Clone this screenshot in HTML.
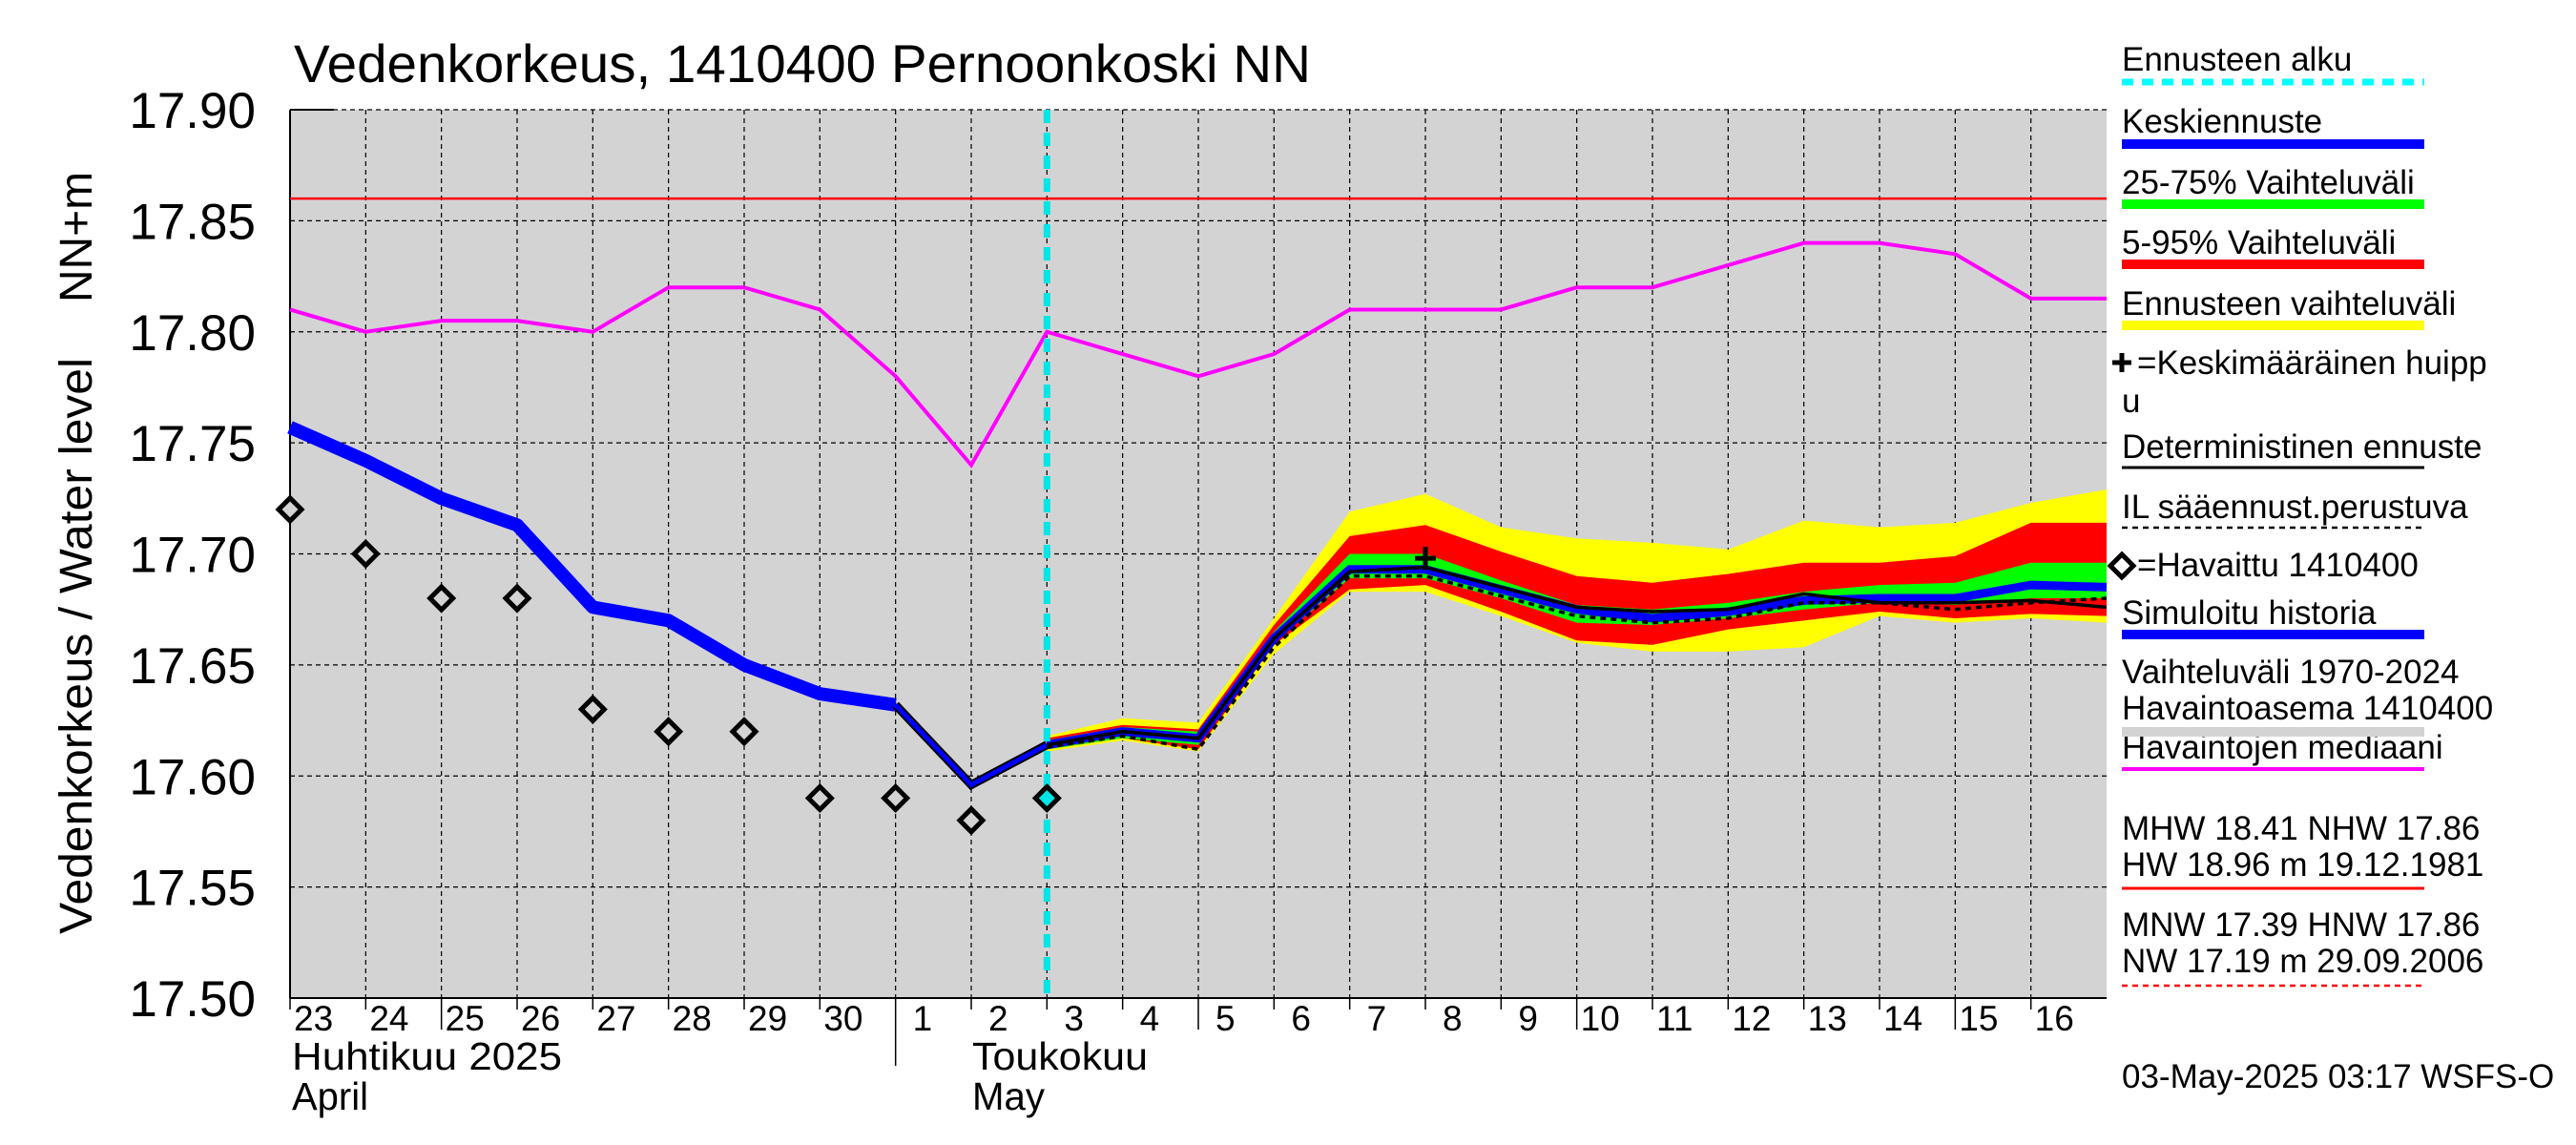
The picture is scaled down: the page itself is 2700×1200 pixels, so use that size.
<!DOCTYPE html>
<html><head><meta charset="utf-8"><style>
body{margin:0;background:#fff;}
svg{display:block;font-family:"Liberation Sans",sans-serif;}
</style></head><body>
<svg id="c" width="2700" height="1200" viewBox="0 0 2700 1200"></svg>
<script>
const days=["23","24","25","26","27","28","29","30","1","2","3","4","5","6","7","8","9","10","11","12","13","14","15","16"];
const yTicks=[17.50,17.55,17.60,17.65,17.70,17.75,17.80,17.85,17.90];
const median=[17.81,17.80,17.805,17.805,17.80,17.82,17.82,17.81,17.78,17.74,17.80,17.79,17.78,17.79,17.81,17.81,17.81,17.82,17.82,17.83,17.84,17.84,17.835,17.815,17.815];
const simHist=[17.757,17.742,17.725,17.713,17.676,17.670,17.650,17.637,17.632,17.596,17.614];
const observed=[17.72,17.70,17.68,17.68,17.63,17.62,17.62,17.59,17.59,17.58,17.59];
const fcStart=10;
const yelTop=[17.618,17.626,17.624,17.671,17.719,17.727,17.712,17.707,17.705,17.702,17.715,17.712,17.714,17.723,17.729];
const redTop=[17.617,17.623,17.621,17.668,17.708,17.713,17.701,17.690,17.687,17.691,17.696,17.696,17.699,17.714,17.714];
const grnTop=[17.616,17.622,17.620,17.665,17.700,17.700,17.688,17.677,17.675,17.678,17.683,17.686,17.687,17.696,17.696];
const grnBot=[17.612,17.617,17.614,17.660,17.689,17.689,17.680,17.669,17.668,17.671,17.675,17.678,17.677,17.680,17.680];
const redBot=[17.612,17.617,17.612,17.659,17.684,17.686,17.674,17.661,17.659,17.666,17.670,17.674,17.671,17.673,17.672];
const yelBot=[17.611,17.616,17.611,17.655,17.683,17.683,17.672,17.660,17.656,17.656,17.658,17.672,17.669,17.671,17.669];
const meanFc=[17.614,17.620,17.617,17.662,17.693,17.693,17.684,17.675,17.671,17.674,17.679,17.680,17.680,17.686,17.685];
const detFc=[17.614,17.620,17.617,17.662,17.692,17.694,17.685,17.676,17.674,17.675,17.682,17.678,17.678,17.679,17.676];
const ilFc=[17.613,17.618,17.612,17.658,17.690,17.690,17.681,17.672,17.669,17.671,17.678,17.678,17.675,17.678,17.680];
const peakDay=15, peakVal=17.698;
const nhw=17.86;

const X0=304,X1=2208,Y0=115,Y1=1046,NDAYS=24;
const xs=i=>X0+(X1-X0)*i/NDAYS;
const ys=v=>Y0+(17.90-v)/0.40*(Y1-Y0);
const svg=document.getElementById('c');
const NS='http://www.w3.org/2000/svg';
function el(tag,attrs,parent){const e=document.createElementNS(NS,tag);for(const k in attrs)e.setAttribute(k,attrs[k]);(parent||svg).appendChild(e);return e;}
function pts(arr,off){return arr.map((v,i)=>xs(i+off)+','+ys(v)).join(' ');}

let e;
e=el('rect',{x:X0,y:Y0,width:X1-X0,height:Y1-Y0,fill:'#d3d3d3'});


for(let i=1;i<NDAYS;i++){
 e=el('line',{x1:xs(i),x2:xs(i),y1:Y0,y2:Y1,stroke:'#000','stroke-width':1.2,'stroke-dasharray':'5,4'});
 
 
}
yTicks.forEach(v=>{
 e=el('line',{x1:X0,x2:X1,y1:ys(v),y2:ys(v),stroke:'#000','stroke-width':1.2,'stroke-dasharray':'5,4'});
 
 
 e=el('text',{x:268,y:ys(v)+19,'font-size':53,'text-anchor':'end'});
 e.textContent=v.toFixed(2);
 
 
});
el('line',{x1:X0,x2:X0,y1:Y0,y2:Y1,stroke:'#000','stroke-width':2});
el('line',{x1:X0,x2:X1,y1:Y1,y2:Y1,stroke:'#000','stroke-width':2});
el('line',{x1:X0,x2:X0+46,y1:Y0,y2:Y0,stroke:'#000','stroke-width':2});
days.forEach((d,i)=>{
 const long=(d==='25'||d==='5'||d==='10'||d==='15');
 el('line',{x1:xs(i),x2:xs(i),y1:Y1,y2:Y1+(d==='1'?71:(long?33:12)),stroke:'#000','stroke-width':1.5});
 e=el('text',{x:xs(i)+(d.length>1?4:18),y:1080,'font-size':37});
 e.textContent=d;
 
 
});
[['Huhtikuu  2025',306,1121,283],['April',306,1163,80],['Toukokuu',1019,1121,184],['May',1019,1163,76]].forEach(t=>{
 e=el('text',{x:t[1],y:t[2],'font-size':41,'xml:space':'preserve',textLength:t[3],lengthAdjust:'spacingAndGlyphs'});e.textContent=t[0];
 
 
});
e=el('line',{x1:X0,x2:X1,y1:ys(nhw),y2:ys(nhw),stroke:'#ff0000','stroke-width':2.5});


e=el('polyline',{points:pts(median,0),fill:'none',stroke:'#ff00ff','stroke-width':4});


function band(top,bot,col,name){
 const p=top.map((v,i)=>xs(i+fcStart)+','+ys(v)).concat(bot.map((v,i)=>[i,v]).reverse().map(a=>xs(a[0]+fcStart)+','+ys(a[1])));
 const b=el('polygon',{points:p.join(' '),fill:col});
 
 
}
band(yelTop,yelBot,'#ffff00','forecast-range-band');
band(redTop,redBot,'#ff0000','band-5-95');
band(grnTop,grnBot,'#00ff00','band-25-75');
e=el('polyline',{points:pts(simHist.slice(0,9),0),fill:'none',stroke:'#0000ff','stroke-width':14,'stroke-linejoin':'round'});


e=el('polyline',{points:pts(simHist.slice(8),8),fill:'none',stroke:'#000','stroke-width':9});
e=el('polyline',{points:pts(simHist.slice(8),8),fill:'none',stroke:'#0000ff','stroke-width':5});


e=el('polyline',{points:pts(meanFc,fcStart),fill:'none',stroke:'#0000ff','stroke-width':9});


e=el('polyline',{points:pts(detFc,fcStart),fill:'none',stroke:'#000','stroke-width':3.5});


e=el('polyline',{points:pts(ilFc,fcStart),fill:'none',stroke:'#000','stroke-width':3.5,'stroke-dasharray':'6,5'});


e=el('path',{d:`M${xs(peakDay)-11},${ys(peakVal)}h22M${xs(peakDay)},${ys(peakVal)-12}v24`,stroke:'#000','stroke-width':5});


e=el('line',{x1:xs(fcStart),x2:xs(fcStart),y1:Y0,y2:Y1,stroke:'#00e5e5','stroke-width':7,'stroke-dasharray':'14,10'});


observed.forEach((v,i)=>{
 const x=xs(i),y=ys(v);
 const d=el('polygon',{points:`${x},${y-12} ${x+12},${y} ${x},${y+12} ${x-12},${y}`,fill:i===fcStart?'#00e5e5':'#d3d3d3',stroke:'#000','stroke-width':5});
 
 
});
e=el('text',{x:308,y:86,'font-size':56,textLength:1066,lengthAdjust:'spacingAndGlyphs'});
e.textContent='Vedenkorkeus, 1410400 Pernoonkoski NN';


e=el('text',{x:0,y:0,'font-size':48,transform:'translate(96,979) rotate(-90)',textLength:604,lengthAdjust:'spacingAndGlyphs'});
e.textContent='Vedenkorkeus / Water level';


e=el('text',{x:0,y:0,'font-size':48,transform:'translate(96,317) rotate(-90)',textLength:137,lengthAdjust:'spacingAndGlyphs'});
e.textContent='NN+m';


const LX=2224,LX2=2541;
const leg=[
 ['Ennusteen alku',74,86,'#00ffff',7,'12,9'],
 ['Keskiennuste',139,151,'#0000ff',10,''],
 ['25-75% Vaihteluväli',203,214,'#00ff00',10,''],
 ['5-95% Vaihteluväli',266,277,'#ff0000',10,''],
 ['Ennusteen vaihteluväli',330,341,'#ffff00',10,''],
 ['Deterministinen ennuste',480,490,'#000',3,''],
 ['IL sääennust.perustuva',543,553,'#000',2.5,'6,5'],
 ['Simuloitu historia',654,665,'#0000ff',10,''],
 ['Havaintojen mediaani',795,806,'#ff00ff',4,''],
];
leg.forEach(l=>{
 const t=el('text',{x:LX,y:l[1],'font-size':35});t.textContent=l[0];
 
 
 const a={x1:LX,x2:LX2,y1:l[2],y2:l[2],stroke:l[3],'stroke-width':l[4]};
 if(l[5])a['stroke-dasharray']=l[5];
 el('line',a);
});
e=el('text',{x:2240,y:392,'font-size':35});e.textContent='=Keskimääräinen huipp';


el('path',{d:'M2214,380h20M2224,370v20',stroke:'#000','stroke-width':5});
e=el('text',{x:2224,y:432,'font-size':35});e.textContent='u';
e=el('text',{x:2240,y:604,'font-size':35});e.textContent='=Havaittu 1410400';


el('polygon',{points:'2224,581 2236,593 2224,605 2212,593',fill:'#fff',stroke:'#000','stroke-width':5});
e=el('text',{x:2224,y:716,'font-size':35});e.textContent='Vaihteluväli 1970-2024';


e=el('text',{x:2224,y:754,'font-size':35,'xml:space':'preserve'});e.textContent=' Havaintoasema 1410400';
el('line',{x1:LX,x2:LX2,y1:767,y2:767,stroke:'#d3d3d3','stroke-width':10});
[['MHW  18.41 NHW  17.86',880],['HW  18.96 m 19.12.1981',918],['MNW  17.39 HNW  17.86',981],['NW  17.19 m 29.09.2006',1019]].forEach(t=>{
 e=el('text',{x:LX,y:t[1],'font-size':35,'xml:space':'preserve'});e.textContent=t[0];
 
 
});
el('line',{x1:LX,x2:LX2,y1:931,y2:931,stroke:'#ff0000','stroke-width':3});
el('line',{x1:LX,x2:LX2,y1:1033,y2:1033,stroke:'#ff0000','stroke-width':2.5,'stroke-dasharray':'6,5'});
e=el('text',{x:LX,y:1140,'font-size':35});e.textContent='03-May-2025 03:17 WSFS-O';


</script>
</body></html>
